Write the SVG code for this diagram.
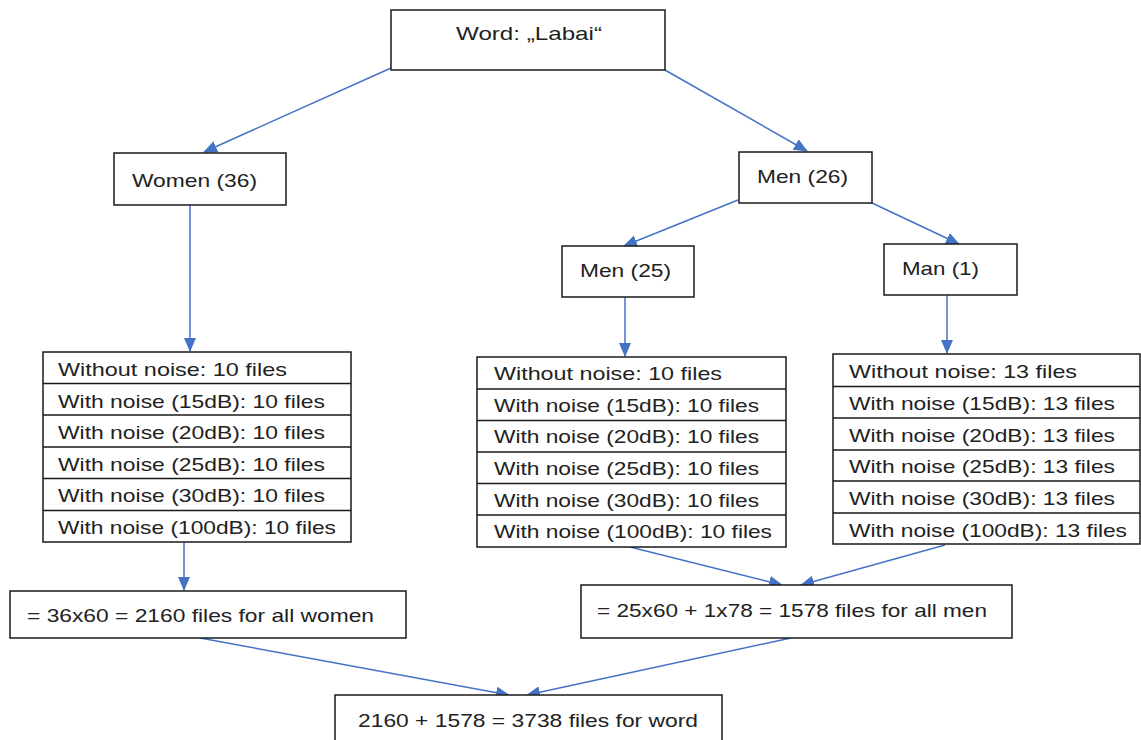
<svg xmlns="http://www.w3.org/2000/svg" width="1141" height="740" viewBox="0 0 1141 740">
<style>
.box{fill:#fff;stroke:#1a1a1a;stroke-width:1.5}
.sep{stroke:#1a1a1a;stroke-width:1.5}
.t{font-family:"Liberation Sans",Arial,sans-serif;font-size:19px;fill:#222}
.c{fill:none;stroke:#4472C4;stroke-width:1.5}
</style>
<defs>
<marker id="ah" markerUnits="userSpaceOnUse" markerWidth="14" markerHeight="12" refX="13" refY="6" orient="auto">
<path d="M0,0 L14,6 L0,12 Z" fill="#4472C4"/>
</marker>
</defs>
<rect width="1141" height="740" fill="#fff"/>
<g id="connectors">
<line class="c" x1="391" y1="68" x2="204" y2="152" marker-end="url(#ah)"/>
<line class="c" x1="665" y1="70" x2="807" y2="151" marker-end="url(#ah)"/>
<line class="c" x1="190" y1="205" x2="190" y2="351" marker-end="url(#ah)"/>
<line class="c" x1="738" y1="200" x2="624" y2="246" marker-end="url(#ah)"/>
<line class="c" x1="872" y1="203" x2="959" y2="244" marker-end="url(#ah)"/>
<line class="c" x1="625" y1="297" x2="625" y2="356" marker-end="url(#ah)"/>
<line class="c" x1="947" y1="295" x2="947" y2="353" marker-end="url(#ah)"/>
<line class="c" x1="184" y1="542" x2="184" y2="590" marker-end="url(#ah)"/>
<line class="c" x1="630" y1="547" x2="782" y2="585" marker-end="url(#ah)"/>
<line class="c" x1="945" y1="545" x2="801" y2="585" marker-end="url(#ah)"/>
<line class="c" x1="200" y1="638" x2="509" y2="695" marker-end="url(#ah)"/>
<line class="c" x1="791" y1="638" x2="527" y2="695" marker-end="url(#ah)"/>
</g>
<g id="word">
<rect class="box" x="391" y="10" width="274" height="60"/>
<text class="t" x="456" y="40" textLength="146" lengthAdjust="spacingAndGlyphs">Word: „Labai“</text>
</g>
<g id="women">
<rect class="box" x="114" y="153" width="172" height="52"/>
<text class="t" x="132" y="187" textLength="125" lengthAdjust="spacingAndGlyphs">Women (36)</text>
</g>
<g id="men26">
<rect class="box" x="739" y="152" width="133" height="51"/>
<text class="t" x="757" y="183" textLength="91" lengthAdjust="spacingAndGlyphs">Men (26)</text>
</g>
<g id="men25">
<rect class="box" x="562" y="246" width="132" height="51"/>
<text class="t" x="580" y="277" textLength="91" lengthAdjust="spacingAndGlyphs">Men (25)</text>
</g>
<g id="man1">
<rect class="box" x="884" y="244" width="133" height="51"/>
<text class="t" x="902" y="275" textLength="77" lengthAdjust="spacingAndGlyphs">Man (1)</text>
</g>
<g id="women-table">
<rect class="box" x="43" y="352" width="308" height="190"/>
<line class="sep" x1="43" y1="383.5" x2="351" y2="383.5"/>
<line class="sep" x1="43" y1="415" x2="351" y2="415"/>
<line class="sep" x1="43" y1="447" x2="351" y2="447"/>
<line class="sep" x1="43" y1="478.5" x2="351" y2="478.5"/>
<line class="sep" x1="43" y1="510.5" x2="351" y2="510.5"/>
<text class="t" x="58" y="376" textLength="229" lengthAdjust="spacingAndGlyphs">Without noise: 10 files</text>
<text class="t" x="58" y="408" textLength="267" lengthAdjust="spacingAndGlyphs">With noise (15dB): 10 files</text>
<text class="t" x="58" y="439" textLength="267" lengthAdjust="spacingAndGlyphs">With noise (20dB): 10 files</text>
<text class="t" x="58" y="471" textLength="267" lengthAdjust="spacingAndGlyphs">With noise (25dB): 10 files</text>
<text class="t" x="58" y="502" textLength="267" lengthAdjust="spacingAndGlyphs">With noise (30dB): 10 files</text>
<text class="t" x="58" y="534" textLength="278" lengthAdjust="spacingAndGlyphs">With noise (100dB): 10 files</text>
</g>
<g id="men25-table">
<rect class="box" x="477" y="357" width="309" height="190"/>
<line class="sep" x1="477" y1="389" x2="786" y2="389"/>
<line class="sep" x1="477" y1="420.5" x2="786" y2="420.5"/>
<line class="sep" x1="477" y1="452" x2="786" y2="452"/>
<line class="sep" x1="477" y1="483.5" x2="786" y2="483.5"/>
<line class="sep" x1="477" y1="515" x2="786" y2="515"/>
<text class="t" x="494" y="380" textLength="228" lengthAdjust="spacingAndGlyphs">Without noise: 10 files</text>
<text class="t" x="494" y="412" textLength="265" lengthAdjust="spacingAndGlyphs">With noise (15dB): 10 files</text>
<text class="t" x="494" y="443" textLength="265" lengthAdjust="spacingAndGlyphs">With noise (20dB): 10 files</text>
<text class="t" x="494" y="475" textLength="265" lengthAdjust="spacingAndGlyphs">With noise (25dB): 10 files</text>
<text class="t" x="494" y="507" textLength="265" lengthAdjust="spacingAndGlyphs">With noise (30dB): 10 files</text>
<text class="t" x="494" y="538" textLength="278" lengthAdjust="spacingAndGlyphs">With noise (100dB): 10 files</text>
</g>
<g id="man1-table">
<rect class="box" x="833" y="354" width="307" height="190"/>
<line class="sep" x1="833" y1="386.5" x2="1140" y2="386.5"/>
<line class="sep" x1="833" y1="418" x2="1140" y2="418"/>
<line class="sep" x1="833" y1="450" x2="1140" y2="450"/>
<line class="sep" x1="833" y1="481" x2="1140" y2="481"/>
<line class="sep" x1="833" y1="513" x2="1140" y2="513"/>
<text class="t" x="849" y="378" textLength="228" lengthAdjust="spacingAndGlyphs">Without noise: 13 files</text>
<text class="t" x="849" y="410" textLength="266" lengthAdjust="spacingAndGlyphs">With noise (15dB): 13 files</text>
<text class="t" x="849" y="442" textLength="266" lengthAdjust="spacingAndGlyphs">With noise (20dB): 13 files</text>
<text class="t" x="849" y="473" textLength="266" lengthAdjust="spacingAndGlyphs">With noise (25dB): 13 files</text>
<text class="t" x="849" y="505" textLength="266" lengthAdjust="spacingAndGlyphs">With noise (30dB): 13 files</text>
<text class="t" x="849" y="537" textLength="278" lengthAdjust="spacingAndGlyphs">With noise (100dB): 13 files</text>
</g>
<g id="women-sum">
<rect class="box" x="10" y="591" width="396" height="47"/>
<text class="t" x="27" y="622" textLength="347" lengthAdjust="spacingAndGlyphs">= 36x60 = 2160 files for all women</text>
</g>
<g id="men-sum">
<rect class="box" x="581" y="585" width="431" height="53"/>
<text class="t" x="597" y="617" textLength="390" lengthAdjust="spacingAndGlyphs">= 25x60 + 1x78 = 1578 files for all men</text>
</g>
<g id="total">
<rect class="box" x="335" y="695" width="387" height="60"/>
<text class="t" x="358" y="727" textLength="340" lengthAdjust="spacingAndGlyphs">2160 + 1578 = 3738 files for word</text>
</g>
</svg>
